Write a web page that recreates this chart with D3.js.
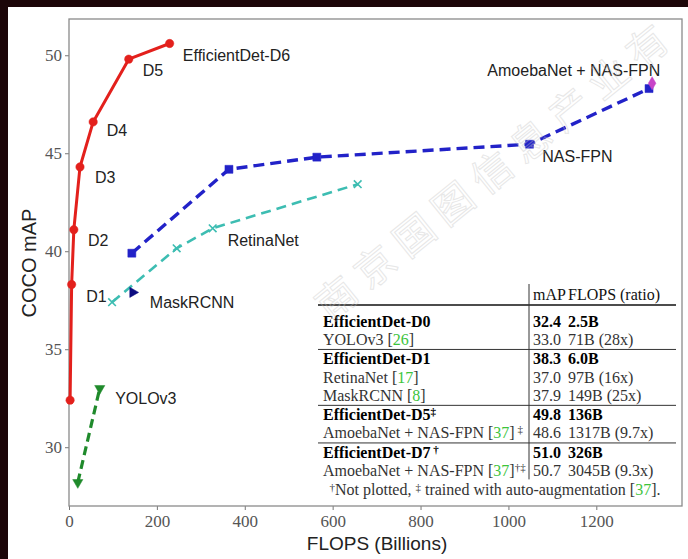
<!DOCTYPE html>
<html>
<head>
<meta charset="utf-8">
<script src="https://cdn.jsdelivr.net/npm/d3@7"></script>
<style>
  body { margin: 0; background: #fff; }
  svg { display: block; }
</style>
</head>
<body>
<svg id="chart"></svg>
<script>
const width = 688, height = 559;

// EfficientDet D0..D6
const effNames = ['D0', 'D1', 'D2', 'D3', 'D4', 'D5', 'D6'];
const effFlops = [2.5, 6.0, 11, 25, 55, 136, 229];
const effMap = [32.4, 38.3, 41.1, 44.3, 46.6, 49.8, 50.6];

// baselines
const yoloFlops = [20, 70];
const yoloMap = [28.2, 33.0];
const retinaFlops = [98, 245, 327, 657];
const retinaMap = [37.4, 40.15, 41.17, 43.42];
const nasFlops = [143, 364, 564, 1048, 1320];
const nasMap = [39.9, 44.18, 44.8, 45.46, 48.3];
const maskFlops = [145];
const maskMap = [37.9];
const amoebaFlops = [1327];
const amoebaMap = [48.57];

const xTicks = [0, 200, 400, 600, 800, 1000, 1200];
const yTicks = [30, 35, 40, 45, 50];

// text labels placed in data coordinates
const labelText = ['EfficientDet-D6', 'D5', 'D4', 'D3', 'D2', 'D1', 'MaskRCNN', 'RetinaNet', 'YOLOv3', 'NAS-FPN', 'AmoebaNet + NAS-FPN'];
const labelX = [259, 168, 86, 59, 43, 39, 184, 361, 105, 1077, 952];
const labelY = [50.0, 49.23, 46.17, 43.78, 40.56, 37.7, 37.4, 40.56, 32.5, 44.85, 49.23];

// table
const colHeads = ['mAP', 'FLOPS (ratio)'];
const rowNames = ['EfficientDet-D0', 'YOLOv3', 'EfficientDet-D1', 'RetinaNet', 'MaskRCNN', 'EfficientDet-D5', 'AmoebaNet + NAS-FPN', 'EfficientDet-D7', 'AmoebaNet + NAS-FPN'];
const rowRefs = ['', '26', '', '17', '8', '', '37', '', '37'];
const rowMarks = ['', '', '', '', '', '‡', ' ‡', ' †', '†‡'];
const rowMap = ['32.4', '33.0', '38.3', '37.0', '37.9', '49.8', '48.6', '51.0', '50.7'];
const rowFlops = ['2.5B', '71B (28x)', '6.0B', '97B (16x)', '149B (25x)', '136B', '1317B (9.7x)', '326B', '3045B (9.3x)'];
const rowGroup = [0, 0, 1, 1, 1, 2, 2, 3, 3];

const margin = { top: 19, right: 6, bottom: 53, left: 69 };

const svg = d3.select('#chart')
  .attr('width', width)
  .attr('height', height)
  .attr('viewBox', [0, 0, width, height]);

// photo frame (dark border at top and left)
svg.append('rect').attr('width', width).attr('height', height).attr('fill', '#1c0608');
svg.append('rect').attr('x', 8).attr('y', 7).attr('width', width - 8).attr('height', height - 7).attr('fill', '#fff');

const x = d3.scaleLinear().domain([0, 1395]).range([margin.left, width - margin.right]);
const y = d3.scaleLinear().domain([27, 51.85]).range([height - margin.bottom, margin.top]);

const serif = '"Liberation Serif", "DejaVu Serif", serif';
const sans = '"Liberation Sans", Arial, sans-serif';

// axes
const xAxis = svg.append('g')
  .attr('transform', `translate(0,${height - margin.bottom})`)
  .call(d3.axisBottom(x).tickValues(xTicks).tickFormat(d3.format('d')).tickSize(4).tickPadding(5).tickSizeOuter(0));
const yAxis = svg.append('g')
  .attr('transform', `translate(${margin.left},0)`)
  .call(d3.axisLeft(y).tickValues(yTicks).tickFormat(d3.format('d')).tickSize(4).tickPadding(3).tickSizeOuter(0));
[xAxis, yAxis].forEach(a => {
  a.select('.domain').remove();
  a.selectAll('line').attr('stroke', '#777');
  a.selectAll('text').attr('font-family', serif).attr('font-size', 17).attr('fill', '#555');
});

// frame
svg.append('rect')
  .attr('x', margin.left).attr('y', margin.top)
  .attr('width', width - margin.left - margin.right)
  .attr('height', height - margin.top - margin.bottom)
  .attr('fill', 'none').attr('stroke', '#8a8a8a').attr('stroke-width', 1.3);

svg.append('text')
  .attr('x', 377)
  .attr('y', 550)
  .attr('text-anchor', 'middle')
  .attr('font-family', sans).attr('font-size', 19).attr('fill', '#222')
  .text('FLOPS (Billions)');
svg.append('text')
  .attr('transform', 'translate(36,263) rotate(-90)')
  .attr('text-anchor', 'middle')
  .attr('font-family', sans).attr('font-size', 20).attr('fill', '#222')
  .text('COCO mAP');

const line = d3.line().x(d => x(d[0])).y(d => y(d[1]));
const zip = (a, b) => a.map((v, i) => [v, b[i]]);

function series(xs, ys, color, width, dash) {
  svg.append('path')
    .datum(zip(xs, ys))
    .attr('d', line)
    .attr('fill', 'none')
    .attr('stroke', color)
    .attr('stroke-width', width)
    .attr('stroke-dasharray', dash)
    .attr('stroke-linejoin', 'round');
}

function markers(xs, ys, color, type, size, rot) {
  svg.selectAll(null).data(zip(xs, ys)).enter()
    .append('path')
    .attr('transform', d => `translate(${x(d[0])},${y(d[1])}) rotate(${rot || 0})`)
    .attr('d', d3.symbol().type(type).size(size))
    .attr('fill', type === d3.symbolTimes ? 'none' : color)
    .attr('stroke', color)
    .attr('stroke-width', type === d3.symbolTimes ? 1.6 : 0.5);
}

series(retinaFlops, retinaMap, '#3dbdb2', 2.6, '10,6');
markers(retinaFlops, retinaMap, '#3dbdb2', d3.symbolTimes, 40);

series(nasFlops, nasMap, '#2222c8', 3.4, '11,6');
markers(nasFlops, nasMap, '#2222c8', d3.symbolSquare, 64);

markers(amoebaFlops, amoebaMap, '#c844c8', d3.symbolDiamond, 50);

series(yoloFlops, yoloMap, '#1f8a2b', 3.2, '9,5');
markers(yoloFlops, yoloMap, '#1f8a2b', d3.symbolTriangle, 45, 180);

markers(maskFlops, maskMap, '#0c0c80', d3.symbolTriangle, 45, 90);

series(effFlops, effMap, '#e3201c', 3.0, null);
markers(effFlops, effMap, '#e3201c', d3.symbolCircle, 55);

svg.selectAll(null).data(labelText).enter()
  .append('text')
  .attr('x', (d, i) => x(labelX[i]))
  .attr('y', (d, i) => y(labelY[i]))
  .attr('dy', '0.36em')
  .attr('font-family', sans).attr('font-size', 16).attr('fill', '#222')
  .text(d => d);

// table
const tbl = svg.append('g').attr('font-family', serif).attr('font-size', 16).attr('fill', '#111');
const tLeft = 318, tRight = 676, tSep = 529, cMap = 533, cFlops = 568;
const rowY = (i) => 321 + i * 18.3 + rowGroup[i] * 1;

tbl.append('rect').attr('x', tLeft).attr('y', 282).attr('width', tRight - tLeft).attr('height', 216).attr('fill', '#fff');
tbl.append('text').attr('x', cMap).attr('y', 294).attr('dy', '0.35em').text(colHeads[0]);
tbl.append('text').attr('x', cFlops).attr('y', 294).attr('dy', '0.35em').text(colHeads[1]);

tbl.append('line').attr('x1', tLeft).attr('x2', tRight).attr('y1', 305).attr('y2', 305)
  .attr('stroke', '#111').attr('stroke-width', 1.6);
[1, 2, 3].forEach(g => {
  const last = rowGroup.lastIndexOf(g - 1), first = rowGroup.indexOf(g);
  const yy = (rowY(last) + rowY(first)) / 2 + 0.5;
  tbl.append('line').attr('x1', tLeft).attr('x2', tRight).attr('y1', yy).attr('y2', yy)
    .attr('stroke', '#333').attr('stroke-width', 1);
});
tbl.append('line').attr('x1', tSep).attr('x2', tSep).attr('y1', 284).attr('y2', rowY(rowNames.length - 1) + 9)
  .attr('stroke', '#333').attr('stroke-width', 1);

rowNames.forEach((name, i) => {
  const bold = rowGroup[i] !== rowGroup[i - 1];
  const t = tbl.append('text').attr('x', 323).attr('y', rowY(i)).attr('dy', '0.35em')
    .attr('font-weight', bold ? 'bold' : 'normal').attr('fill', bold ? '#000' : '#333');
  t.append('tspan').text(name);
  if (rowRefs[i]) {
    t.append('tspan').text(' [');
    t.append('tspan').attr('fill', '#3cc43c').text(rowRefs[i]);
    t.append('tspan').text(']');
  }
  if (rowMarks[i]) {
    t.append('tspan').attr('font-size', 11).attr('baseline-shift', '45%').text(rowMarks[i]);
  }
  tbl.append('text').attr('x', cMap).attr('y', rowY(i)).attr('dy', '0.35em')
    .attr('font-weight', bold ? 'bold' : 'normal').attr('fill', bold ? '#000' : '#333').text(rowMap[i]);
  tbl.append('text').attr('x', cFlops).attr('y', rowY(i)).attr('dy', '0.35em')
    .attr('font-weight', bold ? 'bold' : 'normal').attr('fill', bold ? '#000' : '#333').text(rowFlops[i]);
});

const foot = tbl.append('text').attr('x', 495).attr('y', 489).attr('dy', '0.35em')
  .attr('text-anchor', 'middle').attr('fill', '#333');
foot.append('tspan').attr('font-size', 11).attr('baseline-shift', '40%').text('†');
foot.append('tspan').text('Not plotted, ');
foot.append('tspan').attr('font-size', 11).attr('baseline-shift', '40%').text('‡');
foot.append('tspan').text(' trained with auto-augmentation [');
foot.append('tspan').attr('fill', '#3cc43c').text('37');
foot.append('tspan').text('].');

// faint watermark over the picture
svg.append('text')
  .attr('transform', 'translate(330,322) rotate(-39)')
  .attr('font-family', '"Noto Sans CJK SC", sans-serif')
  .attr('font-size', 40).attr('letter-spacing', 10)
  .attr('fill', 'none').attr('stroke', '#c4c4c4').attr('stroke-width', 1).attr('opacity', 0.4)
  .text('南京国图信息产业有');
</script>
</body>
</html>
